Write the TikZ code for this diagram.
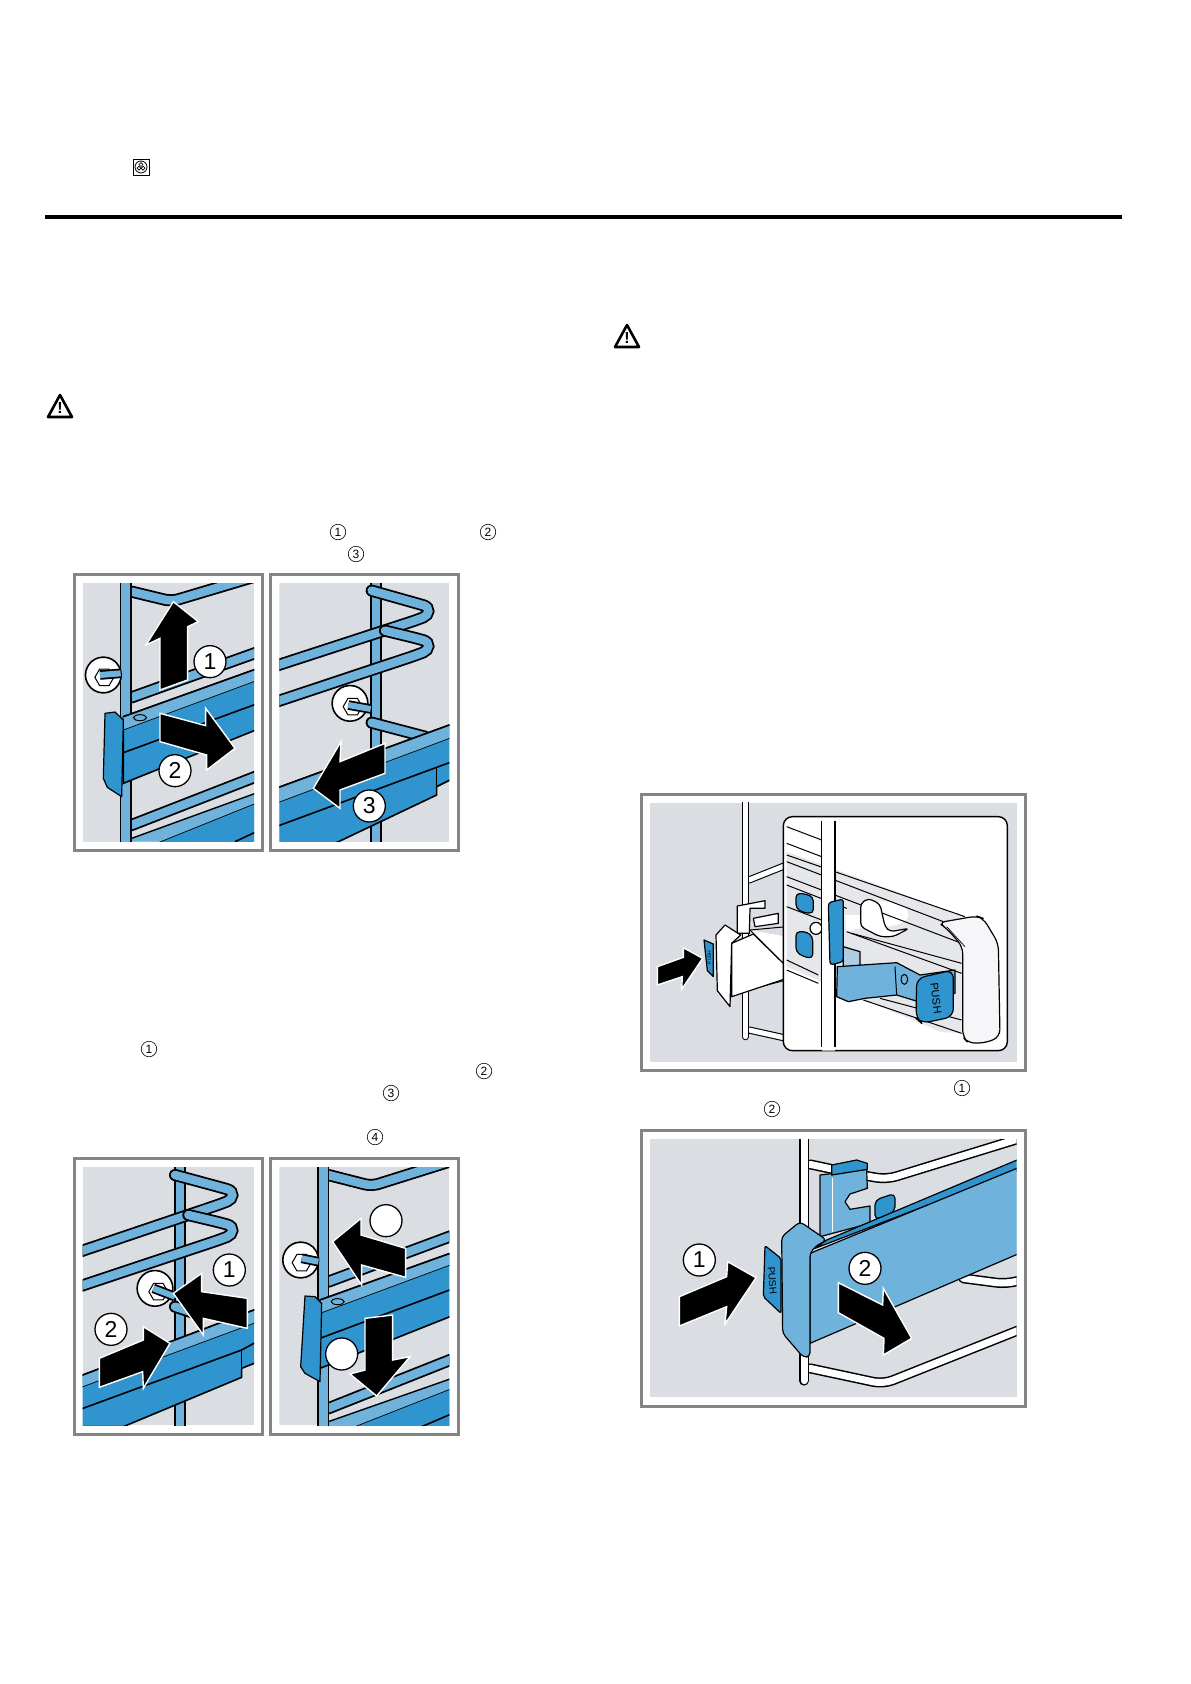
\documentclass[tikz,border=0pt]{standalone}
\usepackage{fontspec}
\setmainfont{Liberation Sans}
\usetikzlibrary{shapes.geometric}

\definecolor{panelgrey}{HTML}{DADDE2}
\definecolor{rodblue}{HTML}{6FB3DC}
\definecolor{railblue}{HTML}{3095CE}
\definecolor{framegrey}{HTML}{858585}

\tikzstyle{panelframe} = [draw=framegrey, fill=white, line width=3pt]
\tikzstyle{rod} = [draw=black, line width=1.8pt, double=rodblue, double distance=8.5pt, line cap=round, rounded corners=7pt]
\tikzstyle{whiterod} = [draw=black, line width=1.5pt, double=white, double distance=7pt, line cap=round, rounded corners=10pt]
\tikzstyle{thinrod} = [draw=black, line width=1.1pt, double=white, double distance=5pt, line cap=round, rounded corners=5pt]
\tikzstyle{rail} = [draw=black, line width=1.6pt, fill=railblue]
\tikzstyle{pale} = [draw=black, line width=1.2pt, fill=rodblue, line join=round]
\tikzstyle{whitepart} = [draw=black, line width=1.2pt, fill=white, line join=round]
\tikzstyle{blockarrow} = [draw=white, fill=black, line width=1.4pt, line join=miter]
\tikzstyle{bignum} = [circle, draw=black, fill=white, line width=1.3pt, inner sep=0pt, minimum size=32pt, font=\fontsize{23}{23}\selectfont]
\tikzstyle{smallnum} = [circle, draw=black, line width=.6pt, inner sep=0pt, minimum size=15.5pt, font=\fontsize{12}{12}\selectfont]
\tikzstyle{nut} = [regular polygon, regular polygon sides=6, draw=black, fill=white, line width=1.6pt, rounded corners=9pt, minimum size=41pt, inner sep=0pt]
\tikzstyle{nutcore} = [regular polygon, regular polygon sides=6, draw=black, fill=white, line width=1pt, minimum size=19pt, inner sep=0pt]
\tikzstyle{hole} = [ellipse, draw=black, line width=1pt, fill=rodblue, minimum width=13pt, minimum height=6pt, inner sep=0pt]
\tikzstyle{warnmark} = [draw=black, line width=2.6pt, line join=round, fill=white]
\tikzstyle{pushlabel} = [inner sep=0pt, text=black]

\begin{document}
\begin{tikzpicture}[x=1pt, y=-1pt]
    \useasboundingbox (0,0) rectangle (1191,1684);
    \fill [white] (0,0) rectangle (1191,1684);

    % header
    \draw [line width=.8pt] (133,159) rectangle (149,175);
    \draw [line width=.8pt] (141,167) circle (6pt);
    \foreach \ang in {90,210,330}
        \draw [line width=.7pt] (141,167) ++(\ang:2.4pt) circle (1.9pt);
    \draw [line width=4pt] (45,217) -- (1122,217);

    % warning signs
    \draw [warnmark] (48,417) -- (60,395) -- (72,417) -- cycle;
    \node (warnA) [inner sep=0pt, font=\bfseries\fontsize{16}{16}\selectfont] at (60,408) {!};
    \draw [warnmark] (615,347) -- (627,325) -- (639,347) -- cycle;
    \node (warnB) [inner sep=0pt, font=\bfseries\fontsize{16}{16}\selectfont] at (627,338) {!};

    % circled numbers in the text
    \node (txtA) [smallnum] at (338,532) {1};
    \node (txtB) [smallnum] at (488,532) {2};
    \node (txtC) [smallnum] at (356,554) {3};
    \node (txtD) [smallnum] at (149,1049) {1};
    \node (txtE) [smallnum] at (484,1071) {2};
    \node (txtF) [smallnum] at (391,1093) {3};
    \node (txtG) [smallnum] at (375,1137) {4};
    \node (txtH) [smallnum] at (962,1088) {1};
    \node (txtI) [smallnum] at (772,1109) {2};

    % top left pair
    \begin{scope}[xshift=60pt, yshift=-560pt, scale=1/3]
        \draw [panelframe] (42,42) rectangle (607,870);
        \draw [panelframe] (632,42) rectangle (1196,870);
        \begin{scope}
            \clip (68,70) rectangle (582,845);
            \fill [panelgrey] (68,70) rectangle (582,845);
            \draw [rod] (215,95) -- (335,124) -- (600,45);
            \draw [rod] (215,412) -- (600,274);
            \draw [rod] (215,795) -- (600,645);
            \fill [rodblue] (215,845) -- (215,835) -- (600,695) -- (600,845) -- cycle;
            \draw [line width=1.4pt] (215,835) -- (600,695);
            \fill [railblue] (290,850) -- (600,725) -- (600,850) -- cycle;
            \draw [line width=.7pt] (290,850) -- (600,725);
            \draw [line width=1.6pt] (525,845) -- (600,810);
            \draw [rod] (197,50) -- (197,860);
            \node (nutA) [nut] at (130,345) {};
            \node (coreA) [nutcore] at (133,352) {};
            \draw [rod, double distance=6pt, line cap=butt] (120,345) -- (182,340);
            \draw [rail] (190,470) -- (600,323) -- (600,505) -- (190,670) -- cycle;
            \fill [rodblue] (190,470) -- (600,323) -- (600,358) -- (190,510) -- cycle;
            \draw [line width=1.6pt] (190,470) -- (600,323);
            \draw [line width=.7pt] (190,510) -- (600,358);
            \draw [line width=1.6pt] (190,578) -- (600,428);
            \node (holeA) [hole] at (240,473) {};
            \draw [pale, fill=railblue] (135,460) -- (165,456) -- (190,480) -- (185,710) -- (142,682) -- (130,655) -- cycle;
            \draw [blockarrow] (340,125) -- (415,185) -- (383,200) -- (383,360) -- (300,390) -- (300,235) -- (258,255) -- cycle;
            \draw [blockarrow] (300,460) -- (437,497) -- (437,445) -- (525,565) -- (440,630) -- (440,585) -- (300,545) -- cycle;
        \end{scope}
        \node (numAa) [bignum] at (450,305) {1};
        \node (numAb) [bignum] at (345,632) {2};

        \begin{scope}
            \clip (658,70) rectangle (1168,845);
            \fill [panelgrey] (658,70) rectangle (1168,845);
            \draw [rod] (948,50) -- (948,860);
            \draw [rod] (935,92) -- (1070,130) .. controls (1112,142) and (1108,165) .. (1070,180) -- (640,320);
            \draw [rod] (975,212) -- (1070,235) .. controls (1112,247) and (1108,270) .. (1070,285) -- (640,428);
            \draw [rod] (935,488) -- (1095,530);
            \node (nutB) [nut] at (870,430) {};
            \node (coreB) [nutcore] at (878,440) {};
            \draw [rod, double distance=6pt, line cap=butt] (865,435) -- (932,447);
            \draw [rail] (640,688) -- (1190,487) -- (1190,650) -- (1130,680) -- (1130,705) -- (825,850) -- (640,850) -- cycle;
            \fill [rodblue] (640,688) -- (1190,487) -- (1190,527) -- (640,733) -- cycle;
            \draw [line width=1.6pt] (640,688) -- (1190,487);
            \draw [line width=.7pt] (640,733) -- (1190,527);
            \draw [line width=1.6pt] (640,803) -- (1130,622) -- (1190,600);
            \draw [line width=1.6pt] (1130,622) -- (1130,680);
            \draw [blockarrow] (975,550) -- (975,640) -- (840,690) -- (840,745) -- (760,685) -- (843,545) -- (840,605) -- cycle;
        \end{scope}
        \node (numAc) [bignum] at (928,738) {3};
    \end{scope}

    % bottom left pair
    \begin{scope}[xshift=60pt, yshift=-1150pt, scale=1/3]
        \draw [panelframe] (42,25) rectangle (607,853);
        \draw [panelframe] (632,25) rectangle (1196,853);
        \begin{scope}
            \clip (68,52) rectangle (582,825);
            \fill [panelgrey] (68,52) rectangle (582,825);
            \draw [rod] (360,30) -- (360,840);
            \draw [rod] (345,75) -- (482,112) .. controls (524,124) and (520,147) .. (482,162) -- (50,308);
            \draw [rod] (385,195) -- (482,218) .. controls (524,230) and (520,253) .. (482,268) -- (50,412);
            \draw [rod] (345,470) -- (420,495);
            \node (nutC) [nut] at (285,415) {};
            \node (coreC) [nutcore] at (295,425) {};
            \draw [rod, double distance=6pt, line cap=butt] (280,415) -- (345,440);
            \draw [rail] (50,682) -- (600,473) -- (600,633) -- (545,655) -- (545,682) -- (190,830) -- (50,830) -- cycle;
            \fill [rodblue] (50,682) -- (600,473) -- (600,513) -- (50,717) -- cycle;
            \draw [line width=1.6pt] (50,682) -- (600,473);
            \draw [line width=.7pt] (50,717) -- (600,513);
            \draw [line width=1.6pt] (50,782) -- (545,600) -- (600,570);
            \draw [line width=1.6pt] (545,600) -- (545,655);
            \draw [blockarrow] (340,430) -- (425,370) -- (425,425) -- (562,445) -- (562,535) -- (430,505) -- (430,555) -- cycle;
            \draw [blockarrow] (330,580) -- (250,530) -- (250,570) -- (118,625) -- (118,712) -- (248,665) -- (250,715) -- cycle;
        \end{scope}
        \node (numBa) [bignum] at (508,360) {1};
        \node (numBb) [bignum] at (153,538) {2};

        \begin{scope}
            \clip (658,52) rectangle (1168,825);
            \fill [panelgrey] (658,52) rectangle (1168,825);
            \draw [rod] (805,75) -- (935,108) -- (1190,28);
            \draw [rod] (805,395) -- (1190,252);
            \draw [rod] (805,775) -- (1190,622);
            \fill [rodblue] (805,830) -- (805,815) -- (1190,680) -- (1190,830) -- cycle;
            \draw [line width=1.4pt] (805,815) -- (1190,680);
            \fill [railblue] (885,830) -- (1190,710) -- (1190,830) -- cycle;
            \draw [line width=.7pt] (885,830) -- (1190,710);
            \draw [line width=1.6pt] (1085,830) -- (1190,785);
            \draw [rod] (790,30) -- (790,840);
            \node (nutD) [nut] at (722,330) {};
            \node (coreD) [nutcore] at (725,338) {};
            \draw [rod, double distance=6pt, line cap=butt] (725,325) -- (775,335);
            \draw [rail] (780,450) -- (1190,303) -- (1190,492) -- (780,655) -- cycle;
            \fill [rodblue] (780,450) -- (1190,303) -- (1190,338) -- (780,490) -- cycle;
            \draw [line width=1.6pt] (780,450) -- (1190,303);
            \draw [line width=.7pt] (780,490) -- (1190,338);
            \draw [line width=1.6pt] (780,565) -- (1190,412);
            \node (holeB) [hole] at (833,455) {};
            \draw [pale, fill=railblue] (735,438) -- (765,440) -- (785,460) -- (780,695) -- (735,670) -- (722,650) -- cycle;
            \draw [blockarrow] (818,275) -- (903,205) -- (903,255) -- (1037,295) -- (1037,382) -- (905,345) -- (905,405) -- cycle;
            \draw [blockarrow] (915,505) -- (998,495) -- (998,630) -- (1050,620) -- (950,738) -- (870,672) -- (915,660) -- cycle;
        \end{scope}
        \node (numBc) [bignum] at (978,212) {};
        \node (numBd) [bignum] at (845,612) {};
    \end{scope}

    % top right panel with inset
    \begin{scope}[xshift=630pt, yshift=-780pt, scale=1/3]
        \draw [panelframe] (34,42) rectangle (1186,870);
        \fill [panelgrey] (60,68) rectangle (1160,845);
        \begin{scope}
            \clip (60,68) rectangle (1160,845);
            \draw [thinrod] (357,300) -- (470,255);
            \draw [thinrod] (357,750) -- (470,775);
            \draw [thinrod] (346,40) -- (346,770);
            \draw [thinrod] (355,620) -- (470,590);
        \end{scope}
        \draw [whitepart] (370,415) -- (445,400) -- (445,430) -- (375,440) -- cycle;
        \draw [whitepart] (322,378) -- (405,362) -- (405,385) -- (360,385) -- (358,460) -- (322,460) -- cycle;
        \fill [white] (360,450) -- (470,470) -- (470,560) -- cycle;
        \draw [line width=1pt] (360,450) -- (470,440);
        \draw [line width=1pt] (360,450) -- (470,560);
        \draw [whitepart] (258,465) -- (285,435) -- (332,465) -- (305,490) -- (300,680) -- (262,632) -- cycle;
        \draw [whitepart] (305,490) -- (370,462) -- (470,560) -- (470,595) -- (305,650) -- cycle;
        \draw [pale, fill=railblue] (222,480) -- (250,492) -- (250,590) -- (232,572) -- cycle;
        \node (pushA) [pushlabel, rotate=90, font=\fontsize{5}{5}\selectfont] at (238,532) {PUSH};
        \draw [blockarrow] (82,560) -- (160,532) -- (160,503) -- (218,535) -- (155,628) -- (157,590) -- (82,615) -- cycle;
        \draw [draw=black, fill=white, line width=1.4pt, rounded corners=9pt] (460,110) rectangle (1132,812);
        \begin{scope}
            \clip [rounded corners=9pt] (460,110) rectangle (1132,812);
            % rail behind the handle
            \fill [panelgrey!70!white] (470,215) -- (1005,410) -- (940,430) -- (995,500) -- (995,760) -- (930,755) -- (470,560) -- cycle;
            \fill [white] (645,405) -- (695,405) -- (690,445) -- (650,455) -- cycle;
            \fill [white] (740,365) .. controls (800,360) and (835,375) .. (835,405) .. controls (835,425) and (800,440) .. (760,440) -- cycle;
            \draw [line width=1pt] (470,140) -- (575,180);
            \draw [line width=1pt] (470,190) -- (575,230);
            \draw [line width=1pt] (470,225) -- (1005,410);
            \draw [line width=1pt] (470,245) -- (940,425);
            \draw [line width=1pt] (470,290) -- (995,490);
            \draw [line width=1pt] (470,315) -- (650,385);
            \draw [line width=1pt] (650,455) -- (995,580);
            \draw [line width=1pt] (665,460) -- (995,550);
            \draw [line width=1pt] (470,380) -- (575,420);
            \draw [line width=1pt] (470,540) -- (565,585);
            \draw [line width=1pt] (470,570) -- (565,610);
            \draw [line width=1pt] (700,660) -- (995,760);
            \draw [line width=1pt] (750,655) -- (995,720);
            \draw [pale, fill=railblue, rounded corners=4pt] (498,340) -- (530,342) -- (550,352) -- (550,400) -- (520,398) -- (498,385) -- cycle;
            \draw [pale, fill=railblue, rounded corners=4pt] (498,455) -- (530,455) -- (548,470) -- (548,535) -- (520,530) -- (498,515) -- cycle;
            \draw [whitepart] (558,445) circle (18pt);
            \fill [white] (575,115) rectangle (615,815);
            \draw [line width=1.3pt] (575,122) -- (575,800);
            \draw [line width=1.3pt] (615,122) -- (615,800);
            \draw [whitepart, rounded corners=4pt] (692,370) -- (715,355) -- (750,372) -- (765,440) -- (780,455) -- (838,445) -- (790,470) -- (750,470) -- (692,440) -- cycle;
            \draw [pale, fill=panelgrey!60!rodblue] (640,500) -- (690,515) -- (690,560) -- (640,560) -- cycle;
            \draw [pale] (622,560) -- (800,548) -- (870,585) -- (975,570) -- (975,640) -- (865,665) -- (800,645) -- (705,655) -- (655,665) -- (620,650) -- cycle;
            \draw [line width=1pt] (795,560) -- (800,645);
            \draw [line width=1pt] (823,598) ellipse (10pt and 15pt);
            \draw [pale, fill=railblue, rounded corners=8pt] (860,595) -- (970,570) -- (970,710) -- (875,730) -- (858,715) -- cycle;
            \node (pushB) [pushlabel, rotate=-83, font=\fontsize{11}{11}\selectfont] at (918,655) {PUSH};
            \draw [pale, fill=railblue, rounded corners=3pt] (595,368) -- (640,357) -- (640,545) -- (600,555) -- cycle;
            \draw [whitepart, fill=panelgrey!25!white, rounded corners=7pt] (925,428) -- (1040,408) -- (1060,415) -- (1105,490) -- (1110,770) -- (1070,788) -- (1015,790) -- (998,770) -- (998,500) -- (950,445) -- cycle;
            \draw [line width=.7pt] (950,440) -- (1005,500);
        \end{scope}
    \end{scope}

    % bottom right panel
    \begin{scope}[xshift=630pt, yshift=-1120pt, scale=1/3]
        \draw [panelframe] (34,32) rectangle (1186,858);
        \fill [panelgrey] (60,58) rectangle (1160,832);
        \begin{scope}
            \clip (60,58) rectangle (1160,832);
            \draw [whiterod] (540,133) -- (610,148);
            \draw [whiterod] (710,168) -- (770,178) -- (1180,52);
            \draw [whiterod] (1000,475) -- (1130,492) -- (1180,478);
            \draw [whiterod] (540,745) -- (760,792) -- (1180,625);
            \draw [whiterod] (522,40) -- (522,782);
            \draw [pale] (570,165) -- (710,148) -- (712,205) -- (660,222) -- (645,245) -- (660,268) -- (720,258) -- (720,310) -- (570,350) -- cycle;
            \draw [pale, fill=railblue, rounded corners=5pt] (735,240) -- (795,220) -- (795,275) -- (735,300) -- cycle;
            \draw [pale, fill=railblue] (605,135) -- (680,120) -- (712,130) -- (712,148) -- (605,165) -- cycle;
            \draw [white, line width=.7pt] (608,175) -- (608,335);
            \draw [pale, fill=railblue] (555,385) -- (590,360) -- (1180,112) -- (1180,145) -- cycle;
            \draw [pale] (540,400) -- (1180,137) -- (1180,395) -- (540,670) -- cycle;
            \draw [pale, fill=railblue, rounded corners=2pt] (405,377) -- (453,415) -- (453,580) -- (400,530) -- cycle;
            \node (pushC) [pushlabel, rotate=-85, font=\fontsize{10}{10}\selectfont] at (427,482) {PUSH};
            \draw [pale, rounded corners=4pt] (455,350) -- (510,305) -- (590,360) -- (555,380) -- (540,400) -- (540,710) -- (520,712) -- (458,640) -- cycle;
            \draw [blockarrow] (148,530) -- (290,470) -- (293,425) -- (378,473) -- (285,612) -- (290,560) -- (148,618) -- cycle;
            \draw [blockarrow] (625,488) -- (758,555) -- (760,505) -- (845,655) -- (760,705) -- (762,655) -- (625,578) -- cycle;
        \end{scope}
        \node (numEa) [bignum] at (208,420) {1};
        \node (numEb) [bignum] at (705,445) {2};
    \end{scope}
\end{tikzpicture}
\end{document}
